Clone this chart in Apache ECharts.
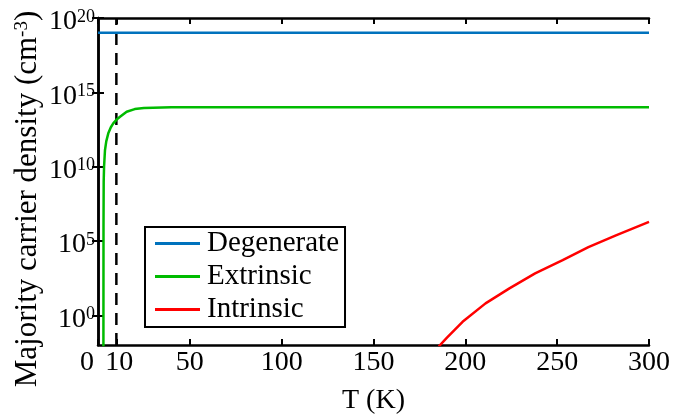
<!DOCTYPE html>
<html>
<head>
<meta charset="utf-8">
<script src="https://cdn.jsdelivr.net/npm/echarts@6/dist/echarts.min.js"></script>
<style>
  html, body { margin: 0; padding: 0; background: #fff; }
  #chart { width: 673px; height: 420px; }
</style>
</head>
<body>
<div id="chart"></div>
<script>
// Temperatures (K) and log10 of carrier density
const degT = [0, 300];
const degExp = [19, 19];

const extT = [2.95, 3.0, 3.1, 3.3, 3.8, 4.5, 5.6, 7, 8.3, 10, 12, 15.6, 20, 25, 30, 40, 55, 100, 300];
const extExp = [-3, 6, 9, 10, 11.1, 11.7, 12.24, 12.65, 12.91, 13.15, 13.35, 13.69, 13.87, 13.94, 13.97, 13.99, 14, 14, 14];

const intT = [185.5, 190, 198.5, 211, 224, 238, 253, 267, 282, 290, 300];
const intExp = [-2.1, -1.5, -0.44, 0.8, 1.81, 2.82, 3.71, 4.58, 5.38, 5.78, 6.28];

const cutoffT = [10, 10];
const cutoffN = [0.01, 1e20];

const xTicks = [0, 10, 50, 100, 150, 200, 250, 300];
const yTicks = [1, 1e5, 1e10, 1e15, 1e20];

const font = "'Liberation Serif', 'Times New Roman', serif";

function pairs(xs, es) {
    return xs.map((x, i) => [x, Math.pow(10, es[i])]);
}

const chart = echarts.init(document.getElementById('chart'));

const yTickFmt = (v) => {
    const e = Math.round(Math.log10(v));
    return '{b|10}{s|' + e + '}';
};

const option = {
    animation: false,
    backgroundColor: '#fff',
    textStyle: { fontFamily: font },
    grid: { left: 98, right: 23, top: 18, bottom: 75 },
    legend: {
        data: ['Degenerate', 'Extrinsic', 'Intrinsic'],
        orient: 'vertical',
        left: 145,
        top: 227,
        padding: [2, 6, 3, 10],
        itemGap: 4,
        itemWidth: 45,
        itemHeight: 3,
        icon: 'rect',
        borderColor: '#000',
        borderWidth: 2,
        backgroundColor: '#fff',
        textStyle: { fontFamily: font, fontSize: 29, color: '#000', padding: [0, 0, 0, 2] }
    },
    graphic: [{
        type: 'text',
        x: 28,
        y: 199,
        rotation: Math.PI / 2,
        style: {
            text: '{a|Majority carrier density (cm}{s|-3}{a|)}',
            align: 'center',
            verticalAlign: 'middle',
            rich: {
                a: { fontFamily: font, fontSize: 31, color: '#000' },
                s: { fontFamily: font, fontSize: 19, color: '#000', verticalAlign: 'top' }
            }
        }
    }],
    xAxis: [{
        type: 'value',
        min: 0,
        max: 300,
        name: 'T (K)',
        nameLocation: 'middle',
        nameGap: 42,
        nameTextStyle: { fontFamily: font, fontSize: 28, color: '#000' },
        axisLine: { lineStyle: { color: '#000', width: 2.5 } },
        axisTick: { inside: true, length: 6, customValues: xTicks, lineStyle: { color: '#000', width: 2 } },
        axisLabel: {
            customValues: xTicks,
            margin: 4,
            color: '#000',
            fontFamily: font,
            fontSize: 28,
            formatter: (v) => v === 0 ? '{z|0}' : (v === 10 ? '{t|10}' : String(v)),
            rich: {
                z: { fontFamily: font, fontSize: 28, color: '#000', padding: [0, 22, 0, 0] },
                t: { fontFamily: font, fontSize: 28, color: '#000', padding: [0, 0, 0, 6] }
            }
        },
        splitLine: { show: false }
    }, {
        type: 'value',
        min: 0,
        max: 300,
        position: 'top',
        axisLine: { lineStyle: { color: '#000', width: 2.5 } },
        axisTick: { inside: true, length: 6, customValues: xTicks, lineStyle: { color: '#000', width: 2 } },
        axisLabel: { show: false },
        splitLine: { show: false }
    }],
    yAxis: [{
        type: 'log',
        logBase: 10,
        min: 0.01,
        max: 1e20,
        axisLine: { lineStyle: { color: '#000', width: 2.5 } },
        axisTick: { inside: true, length: 6, customValues: yTicks, lineStyle: { color: '#000', width: 2 } },
        axisLabel: {
            customValues: yTicks,
            margin: 3,
            padding: [8, 0, 0, 0],
            formatter: yTickFmt,
            rich: {
                b: { fontFamily: font, fontSize: 28, lineHeight: 28, color: '#000', verticalAlign: 'top' },
                s: { fontFamily: font, fontSize: 18, lineHeight: 18, color: '#000', verticalAlign: 'top' }
            }
        },
        splitLine: { show: false }
    }, {
        type: 'log',
        logBase: 10,
        min: 0.01,
        max: 1e20,
        position: 'right',
        axisLine: { lineStyle: { color: '#000', width: 2.5 } },
        axisTick: { inside: true, length: 6, customValues: yTicks, lineStyle: { color: '#000', width: 2 } },
        axisLabel: { show: false },
        splitLine: { show: false }
    }],
    series: [{
        name: 'Cutoff',
        type: 'line',
        data: cutoffT.map((t, i) => [t, cutoffN[i]]),
        showSymbol: false,
        lineStyle: { color: '#000', width: 2.5, type: [12, 8] },
        z: 1
    }, {
        name: 'Degenerate',
        type: 'line',
        data: pairs(degT, degExp),
        showSymbol: false,
        color: '#0072bd',
        lineStyle: { color: '#0072bd', width: 2.5 }
    }, {
        name: 'Extrinsic',
        type: 'line',
        data: pairs(extT, extExp),
        showSymbol: false,
        color: '#00bb00',
        lineStyle: { color: '#00bb00', width: 2.5 }
    }, {
        name: 'Intrinsic',
        type: 'line',
        data: pairs(intT, intExp),
        showSymbol: false,
        color: '#ff0000',
        lineStyle: { color: '#ff0000', width: 2.5 }
    }]
};

chart.setOption(option);

window.addEventListener('resize', () => {
    chart.resize();
});
</script>
</body>
</html>
